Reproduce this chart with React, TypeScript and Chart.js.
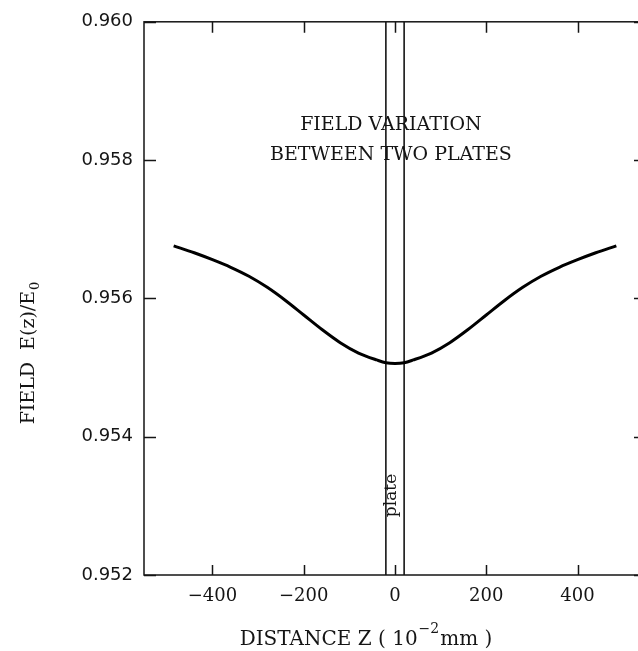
import React, { useEffect, useRef } from "react";
import { Chart, registerables } from "chart.js";

Chart.register(...registerables);

// ---- data ----
const Z_VALUES = [-485, -440, -400, -360, -320, -280, -240, -200, -160, -120, -80, -40, -20, 0, 20, 40, 80, 120, 160, 200, 240, 280, 320, 360, 400, 440, 485];
const FIELD_VALUES = [
  0.95676, 0.95666, 0.95656, 0.95645, 0.95632, 0.95616, 0.95597, 0.95576, 0.95555, 0.95536, 0.95521, 0.95511, 0.95507,
  0.95506,
  0.95507, 0.95511, 0.95521, 0.95536, 0.95555, 0.95576, 0.95597, 0.95616, 0.95632, 0.95645, 0.95656, 0.95666, 0.95676,
];
const PLATE_EDGES = [-20, 20];
const X_TICKS = [-400, -200, 0, 200, 400];
const Y_TICKS = [0.952, 0.954, 0.956, 0.958, 0.96];
const X_MIN = -550;
const X_MAX = 550;
const Y_MIN = 0.952;
const Y_MAX = 0.96;
const TITLE_LINES = ["FIELD VARIATION", "BETWEEN TWO PLATES"];
const PLATE_LABEL = "plate";
const X_TITLE = ["DISTANCE Z ( 10", "\u22122", "mm )"];
const Y_TITLE = ["FIELD  E(z)/E", "0"];

const INK = "#151515";
const SERIF = "'DejaVu Serif', 'Liberation Serif', serif";
const SANS = "'DejaVu Sans', 'Liberation Sans', sans-serif";

const decorPlugin = {
  id: "decor",
  afterDraw(chart: any) {
    const { ctx, chartArea } = chart;
    const xs = chart.scales.x;
    const ys = chart.scales.y;
    const { left, right, top, bottom } = chartArea;
    ctx.save();
    ctx.strokeStyle = INK;
    ctx.lineWidth = 1.5;
    ctx.strokeRect(left, top, right - left, bottom - top);
    ctx.beginPath();
    for (const v of X_TICKS) {
      const px = Math.round(xs.getPixelForValue(v)) + 0.5;
      ctx.moveTo(px, bottom);
      ctx.lineTo(px, bottom - 10);
      ctx.moveTo(px, top);
      ctx.lineTo(px, top + 11);
    }
    for (const v of Y_TICKS) {
      const py = Math.round(ys.getPixelForValue(v)) + 0.5;
      ctx.moveTo(left, py);
      ctx.lineTo(left + 12, py);
      ctx.moveTo(right, py);
      ctx.lineTo(right - 12, py);
    }
    ctx.stroke();

    ctx.fillStyle = INK;
    // annotation title
    ctx.font = `19px ${SERIF}`;
    ctx.textAlign = "center";
    ctx.textBaseline = "middle";
    const cx = xs.getPixelForValue(-9);
    ctx.fillText(TITLE_LINES[0], cx, ys.getPixelForValue(0.95851));
    ctx.fillText(TITLE_LINES[1], cx, ys.getPixelForValue(0.95808));

    // plate label (rotated)
    ctx.save();
    ctx.translate(xs.getPixelForValue(-7), ys.getPixelForValue(0.95315));
    ctx.rotate(-Math.PI / 2);
    ctx.font = `17px ${SERIF}`;
    ctx.fillText(PLATE_LABEL, 0, 0);
    ctx.restore();

    // x axis title with superscript
    {
      const big = `20px ${SERIF}`;
      const small = `14px ${SERIF}`;
      ctx.textAlign = "left";
      ctx.textBaseline = "alphabetic";
      ctx.font = big;
      const w0 = ctx.measureText(X_TITLE[0]).width;
      const w2 = ctx.measureText(X_TITLE[2]).width;
      ctx.font = small;
      const w1 = ctx.measureText(X_TITLE[1]).width;
      const total = w0 + w1 + w2 + 2;
      const startX = 366 - total / 2;
      const base = 645;
      ctx.font = big;
      ctx.fillText(X_TITLE[0], startX, base);
      ctx.font = small;
      ctx.fillText(X_TITLE[1], startX + w0 + 1, base - 12);
      ctx.font = big;
      ctx.fillText(X_TITLE[2], startX + w0 + w1 + 2, base);
    }

    // y axis title with subscript
    {
      const big = `19px ${SERIF}`;
      const small = `13px ${SERIF}`;
      ctx.save();
      ctx.translate(34, 353);
      ctx.rotate(-Math.PI / 2);
      ctx.textAlign = "left";
      ctx.textBaseline = "alphabetic";
      ctx.font = big;
      const w0 = ctx.measureText(Y_TITLE[0]).width;
      ctx.font = small;
      const w1 = ctx.measureText(Y_TITLE[1]).width;
      const total = w0 + w1 + 1;
      ctx.font = big;
      ctx.fillText(Y_TITLE[0], -total / 2, 0);
      ctx.font = small;
      ctx.fillText(Y_TITLE[1], -total / 2 + w0 + 1, 5);
      ctx.restore();
    }
    ctx.restore();
  },
};

export default function App() {
  const ref = useRef<HTMLCanvasElement | null>(null);
  useEffect(() => {
    document.body.style.margin = "0";
    document.body.style.overflow = "hidden";
    document.body.style.background = "#ffffff";
    const canvas = ref.current!;
    const curve = Z_VALUES.map((z, i) => ({ x: z, y: FIELD_VALUES[i] }));
    const plateSets = PLATE_EDGES.map((z) => ({
      data: [
        { x: z, y: Y_MIN },
        { x: z, y: Y_MAX },
      ],
      borderColor: INK,
      borderWidth: 1.6,
      pointRadius: 0,
      fill: false,
    }));
    const chart = new Chart(canvas, {
      type: "line",
      data: {
        datasets: [
          {
            data: curve,
            borderColor: "#000000",
            borderWidth: 3,
            pointRadius: 0,
            fill: false,
            cubicInterpolationMode: "monotone",
          },
          ...plateSets,
        ],
      },
      options: {
        animation: false,
        responsive: false,
        maintainAspectRatio: false,
        layout: { padding: { left: 0, top: 19, right: 14, bottom: 0 } },
        plugins: { legend: { display: false }, tooltip: { enabled: false } },
        scales: {
          x: {
            type: "linear",
            min: X_MIN,
            max: X_MAX,
            grid: { display: false, drawTicks: false },
            border: { display: false },
            afterBuildTicks: (s: any) => {
              s.ticks = X_TICKS.map((v) => ({ value: v }));
            },
            afterFit: (s: any) => {
              s.height = 76;
            },
            ticks: {
              padding: 11,
              color: INK,
              font: { family: SERIF, size: 18 },
              maxRotation: 0,
              callback: (v: any) => (Number(v) < 0 ? "\u2212" + Math.abs(Number(v)) : String(v)),
            },
          },
          y: {
            type: "linear",
            min: Y_MIN,
            max: Y_MAX,
            grid: { display: false, drawTicks: false },
            border: { display: false },
            afterBuildTicks: (s: any) => {
              s.ticks = Y_TICKS.map((v) => ({ value: v }));
            },
            afterFit: (s: any) => {
              s.width = 144;
            },
            ticks: {
              padding: 11,
              color: INK,
              font: { family: SANS, size: 18 },
              callback: (v: any) => Number(v).toFixed(3),
            },
          },
        },
      },
      plugins: [decorPlugin],
    } as any);
    return () => chart.destroy();
  }, []);
  return (
    <div style={{ width: 660, height: 651, overflow: "hidden" }}>
      <canvas ref={ref} width={660} height={651} style={{ width: 660, height: 651, display: "block" }} />
    </div>
  );
}
